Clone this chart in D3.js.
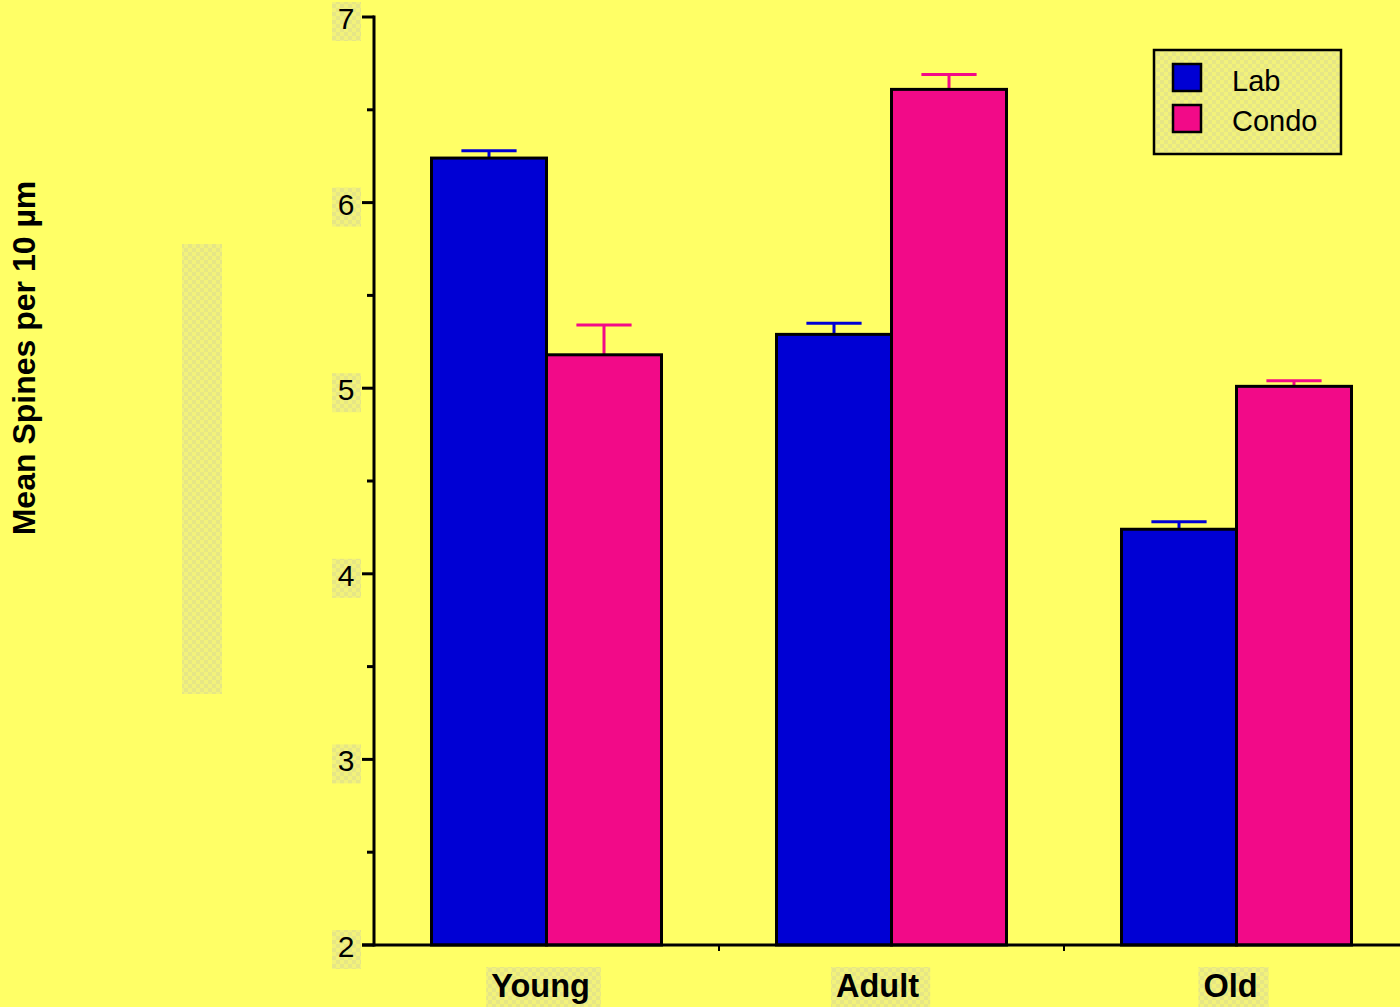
<!DOCTYPE html>
<html><head><meta charset="utf-8">
<script src="https://cdn.jsdelivr.net/npm/d3@7"></script>
<style>html,body{margin:0;padding:0;background:#FFFF66;}svg{display:block;}</style>
</head><body>
<script>
const groups = ["Young", "Adult", "Old"];
const seriesNames = ["Lab", "Condo"];
const labMeans = [6.24, 5.29, 4.24];
const labErr = [0.04, 0.06, 0.04];
const condoMeans = [5.18, 6.61, 5.01];
const condoErr = [0.16, 0.08, 0.03];
const colors = ["#0000D4", "#F20A88"];
const yTicks = [2, 3, 4, 5, 6, 7];
const yMinorTicks = [2.5, 3.5, 4.5, 5.5, 6.5];
const yTitle = "Mean Spines per 10 µm";

const W = 1400, H = 1007;
const FONT = "Liberation Sans, Arial, sans-serif";
const svg = d3.select("body").append("svg").attr("width", W).attr("height", H);
svg.append("rect").attr("width", W).attr("height", H).attr("fill", "#FFFF66");

const defs = svg.append("defs");
const pat = defs.append("pattern").attr("id", "chk").attr("patternUnits", "userSpaceOnUse")
  .attr("width", 8).attr("height", 8);
pat.append("rect").attr("width", 8).attr("height", 8).attr("fill", "#F2F27A");
pat.append("rect").attr("width", 4).attr("height", 4).attr("fill", "#E6E686");
pat.append("rect").attr("x", 4).attr("y", 4).attr("width", 4).attr("height", 4).attr("fill", "#E6E686");

const x0 = 374, x1 = 1409, yTop = 17, yBot = 945;
const y = d3.scaleLinear().domain([2, 7]).range([yBot, yTop]);
const xb = d3.scaleBand().domain(groups).range([x0, x1]).paddingInner(0).paddingOuter(0);
const xs = d3.scaleBand().domain(seriesNames).range([0, xb.bandwidth()]).paddingOuter(0.5).paddingInner(0);

// decorative checker strip
svg.append("rect").attr("x", 182).attr("y", 244).attr("width", 40).attr("height", 450).attr("fill", "url(#chk)");

const data = [];
groups.forEach((g, i) => {
  data.push({g, s: "Lab", v: labMeans[i], e: labErr[i], c: colors[0]});
  data.push({g, s: "Condo", v: condoMeans[i], e: condoErr[i], c: colors[1]});
});

// error bars (upward)
const eb = svg.append("g");
data.forEach(d => {
  const cx = xb(d.g) + xs(d.s) + xs.bandwidth() / 2;
  const cw = xs.bandwidth() * 0.48;
  eb.append("line").attr("x1", cx).attr("x2", cx).attr("y1", y(d.v)).attr("y2", y(d.v + d.e))
    .attr("stroke", d.c).attr("stroke-width", 3);
  eb.append("line").attr("x1", cx - cw / 2).attr("x2", cx + cw / 2).attr("y1", y(d.v + d.e)).attr("y2", y(d.v + d.e))
    .attr("stroke", d.c).attr("stroke-width", 3);
});

// bars
svg.append("g").selectAll("rect").data(data).join("rect")
  .attr("x", d => xb(d.g) + xs(d.s))
  .attr("y", d => y(d.v))
  .attr("width", xs.bandwidth())
  .attr("height", d => y(2) - y(d.v))
  .attr("fill", d => d.c)
  .attr("stroke", "#000").attr("stroke-width", 3);

// y axis
const ya = svg.append("g");
ya.append("line").attr("x1", x0).attr("x2", x0).attr("y1", yTop - 1.5).attr("y2", yBot + 1.5).attr("stroke", "#000").attr("stroke-width", 3);
yTicks.forEach(t => {
  ya.append("line").attr("x1", x0 - 12).attr("x2", x0).attr("y1", y(t)).attr("y2", y(t)).attr("stroke", "#000").attr("stroke-width", 3);
  ya.append("rect").attr("x", 332).attr("y", y(t) - 15).attr("width", 29).attr("height", 39).attr("fill", "url(#chk)");
  ya.append("text").attr("x", 346).attr("y", y(t) + 12).attr("text-anchor", "middle")
    .attr("font-family", FONT).attr("font-size", 30).attr("fill", "#000").text(t);
});
yMinorTicks.forEach(t => {
  ya.append("line").attr("x1", x0 - 7).attr("x2", x0).attr("y1", y(t)).attr("y2", y(t)).attr("stroke", "#000").attr("stroke-width", 3);
});

// x axis
const xa = svg.append("g");
xa.append("line").attr("x1", x0 - 12).attr("x2", W).attr("y1", yBot).attr("y2", yBot).attr("stroke", "#000").attr("stroke-width", 3);
groups.forEach((g, i) => {
  if (i > 0) xa.append("line").attr("x1", xb(g)).attr("x2", xb(g)).attr("y1", yBot).attr("y2", yBot + 6).attr("stroke", "#000").attr("stroke-width", 2);
});
const labelOffsets = {Young: -6, Adult: -14, Old: -6};
groups.forEach(g => {
  const cx = xb(g) + xb.bandwidth() / 2 + labelOffsets[g];
  const t = xa.append("text").attr("x", cx).attr("y", 997).attr("text-anchor", "middle")
    .attr("font-family", FONT).attr("font-weight", "bold").attr("font-size", 32.5).attr("fill", "#000").text(g);
  const bb = t.node().getBBox();
  xa.insert("rect", "text").attr("x", bb.x - 5).attr("y", 967).attr("width", bb.width + 16).attr("height", 40).attr("fill", "url(#chk)");
});

// y title
svg.append("text").attr("transform", "translate(35,358) rotate(-90)").attr("text-anchor", "middle")
  .attr("font-family", FONT).attr("font-weight", "bold").attr("font-size", 32).attr("fill", "#000").text(yTitle);

// legend
const lg = svg.append("g");
lg.append("rect").attr("x", 1154).attr("y", 50).attr("width", 187).attr("height", 104).attr("fill", "url(#chk)").attr("stroke", "#000").attr("stroke-width", 2.5);
seriesNames.forEach((s, i) => {
  lg.append("rect").attr("x", 1173).attr("y", 64 + i * 41).attr("width", 28).attr("height", 27).attr("fill", colors[i]).attr("stroke", "#000").attr("stroke-width", 2.5);
  lg.append("text").attr("x", 1232).attr("y", 91 + i * 40).attr("font-family", FONT).attr("font-size", 29).attr("fill", "#000").text(s);
});
</script>
</body></html>
